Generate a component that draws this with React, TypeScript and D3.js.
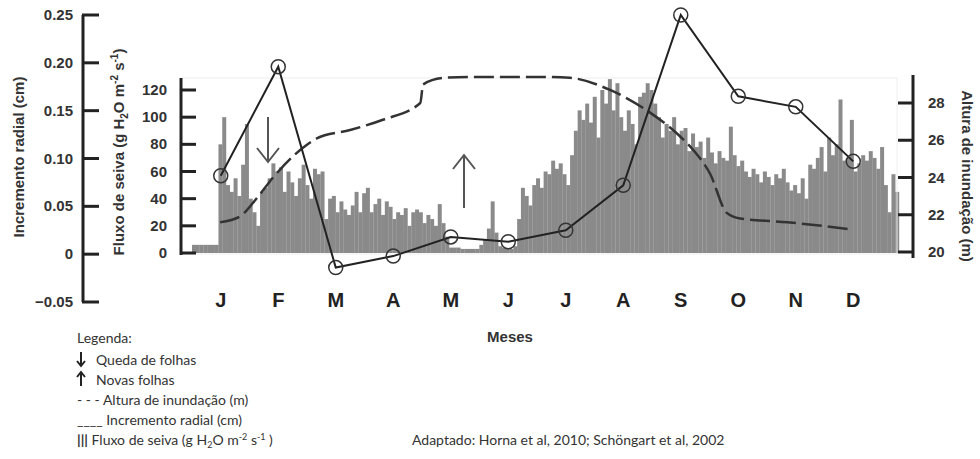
import React from "react";
import * as d3 from "d3";

const width = 980,
  height = 459;

// meses (rótulos do eixo x)
const months = ["J", "F", "M", "A", "M", "J", "J", "A", "S", "O", "N", "D"];

// incremento radial (cm), um valor por mês
const increment = [0.082, 0.196, -0.014, -0.002, 0.018, 0.013, 0.025, 0.072, 0.25, 0.165, 0.154, 0.097];

// altura de inundação (m): posição em meses e valor
const floodMonth = [0.49, 0.83, 1.13, 1.41, 1.93, 2.17, 2.75, 3.32, 3.97, 4.02, 4.37, 4.89, 6.05, 6.57, 7.27, 7.91, 8.49, 8.71, 9.01, 9.3, 9.53, 10.35, 11.5];
const floodHeight = [21.6, 21.9, 22.9, 24.0, 25.6, 26.1, 26.55, 27.1, 28.0, 29.0, 29.35, 29.4, 29.4, 29.35, 28.7, 27.6, 26.2, 25.5, 24.2, 22.1, 21.8, 21.6, 21.2];

// fluxo de seiva (g H2O m-2 s-1), um valor a cada 2 dias
const sapFlow = [
  6, 6, 6, 6, 6, 6, 6, 80, 100, 50, 45, 55, 42, 65, 95, 40, 30, 20, 45, 48,
  55, 66, 60, 63, 45, 60, 52, 42, 55, 65, 50, 40, 62, 58, 60, 25, 40, 42, 30, 38,
  32, 28, 35, 45, 30, 44, 48, 30, 36, 40, 28, 38, 34, 25, 30, 28, 33, 20, 30, 32,
  30, 22, 28, 25, 20, 36, 22, 12, 4, 4, 4, 3, 3, 3, 3, 3, 6, 10, 18, 38,
  15, 5, 4, 3, 3, 5, 25, 48, 42, 35, 50, 55, 48, 60, 58, 68, 62, 66, 58, 50,
  72, 90, 105, 98, 110, 96, 115, 85, 120, 110, 128, 105, 125, 100, 90, 105, 95, 80, 115, 118,
  125, 120, 110, 100, 85, 95, 90, 100, 80, 90, 92, 75, 88, 78, 82, 70, 85, 74, 66, 75,
  70, 68, 93, 72, 64, 68, 60, 56, 62, 58, 52, 60, 56, 50, 58, 55, 62, 52, 46, 50,
  44, 55, 40, 65, 62, 70, 78, 60, 85, 72, 80, 113, 68, 70, 98, 60, 66, 72, 68, 75,
  70, 62, 78, 50, 30, 58, 45,
];

const incTicks = [-0.05, 0, 0.05, 0.1, 0.15, 0.2, 0.25];
const sapTicks = [0, 20, 40, 60, 80, 100, 120];
const floodTicks = [20, 22, 24, 26, 28];

const legendItems = [
  "Queda de folhas",
  "Novas folhas",
  "Altura de inundação (m)",
  "Incremento radial (cm)",
];

export default function App() {
  const xMonth = d3.scaleLinear().domain([0, 12]).range([192, 882]);
  const xDay = d3.scaleLinear().domain([0, 365]).range([192, 882]);
  const yInc = d3.scaleLinear().domain([-0.05, 0.25]).range([302, 15]);
  const ySap = d3.scaleLinear().domain([0, 120]).range([253, 90]);
  const yFlood = d3.scaleLinear().domain([20, 28]).range([252, 103]);

  const incLine = d3
    .line<number>()
    .x((_, i) => xMonth(i + 0.5))
    .y(d => yInc(d));

  const floodLine = d3
    .line<number>()
    .x((_, i) => xMonth(floodMonth[i]))
    .y(d => yFlood(d))
    .curve(d3.curveMonotoneX);

  const axisFont = "'Liberation Sans', Arial, sans-serif";
  const legendFont = "Lato, 'Open Sans', sans-serif";
  const ink = "#222";

  return (
    <svg
      width={width}
      height={height}
      style={{ position: "absolute", left: 0, top: 0, background: "#fff" }}
    >
      {/* barras de fluxo de seiva */}
      <g fill="#8a8a8a">
        {sapFlow.map((v, i) => (
          <rect
            key={i}
            x={xDay(i * 2)}
            width={xDay(i * 2 + 2) - xDay(i * 2) + 0.2}
            y={ySap(v)}
            height={ySap(0) - ySap(v)}
          />
        ))}
      </g>
      <rect x={181} y={78} width={716} height={176} fill="none" stroke="#eee" strokeWidth={1} />

      {/* altura de inundação */}
      <path
        d={floodLine(floodHeight) || ""}
        fill="none"
        stroke="#333"
        strokeWidth={2.5}
        strokeDasharray="20 6"
      />

      {/* incremento radial */}
      <path d={incLine(increment) || ""} fill="none" stroke={ink} strokeWidth={2} />
      {increment.map((d, i) => (
        <circle key={i} cx={xMonth(i + 0.5)} cy={yInc(d)} r={7} fill="none" stroke="#333" strokeWidth={1.5} />
      ))}

      {/* setas */}
      <g stroke="#555" strokeWidth={2} fill="none">
        <path d="M268,117 V162 M257,148 L268,162 L279,148" />
        <path d="M464,208 V155 M453,169 L464,155 L475,169" />
      </g>

      {/* eixo incremento radial */}
      <g stroke={ink} strokeWidth={3}>
        <line x1={83} x2={83} y1={yInc(0.25)} y2={yInc(-0.05)} />
        {incTicks.map(t => (
          <line key={t} x1={82} x2={99} y1={yInc(t)} y2={yInc(t)} />
        ))}
      </g>
      <g fontFamily={axisFont} fontWeight="bold" fontSize={15} fill="#333" textAnchor="end">
        {incTicks.map(t => (
          <text key={t} x={73} y={yInc(t) + 5}>
            {t === 0 ? "0" : d3.format(".2f")(t)}
          </text>
        ))}
      </g>

      {/* eixo fluxo de seiva */}
      <g stroke={ink} strokeWidth={3}>
        <line x1={181} x2={181} y1={78} y2={255} />
        {sapTicks.map(t => (
          <line key={t} x1={180} x2={196} y1={ySap(t)} y2={ySap(t)} />
        ))}
      </g>
      <g fontFamily={axisFont} fontWeight="bold" fontSize={15} fill="#333" textAnchor="end">
        {sapTicks.map(t => (
          <text key={t} x={167} y={ySap(t) + 5}>
            {t}
          </text>
        ))}
      </g>

      {/* eixo altura de inundação */}
      <g stroke={ink} strokeWidth={3}>
        <line x1={913} x2={913} y1={75} y2={258} />
        {floodTicks.map(t => (
          <line key={t} x1={898} x2={914} y1={yFlood(t)} y2={yFlood(t)} />
        ))}
      </g>
      <g fontFamily={axisFont} fontWeight="bold" fontSize={15} fill="#333">
        {floodTicks.map(t => (
          <text key={t} x={928} y={yFlood(t) + 5}>
            {t}
          </text>
        ))}
      </g>

      {/* títulos dos eixos */}
      <text
        transform="translate(24,157) rotate(-90)"
        textAnchor="middle"
        fontFamily={axisFont}
        fontWeight="bold"
        fontSize={15}
        fill="#333"
      >
        Incremento radial (cm)
      </text>
      <text
        transform="translate(124,152) rotate(-90)"
        textAnchor="middle"
        fontFamily={axisFont}
        fontWeight="bold"
        fontSize={15}
        fill="#333"
      >
        Fluxo de seiva (g H<tspan fontSize={10} dy={4}>2</tspan>
        <tspan dy={-4}>O m</tspan>
        <tspan fontSize={10} dy={-6}>-2</tspan>
        <tspan dy={6}> s</tspan>
        <tspan fontSize={10} dy={-6}>-1</tspan>
        <tspan dy={6}>)</tspan>
      </text>
      <text
        transform="translate(962,176) rotate(90)"
        textAnchor="middle"
        fontFamily={axisFont}
        fontWeight="bold"
        fontSize={15}
        fill="#333"
      >
        Altura de inundação (m)
      </text>

      {/* meses */}
      <g fontFamily={axisFont} fontWeight="bold" fontSize={20} fill={ink} textAnchor="middle">
        {months.map((m, i) => (
          <text key={i} x={xMonth(i + 0.5)} y={307}>
            {m}
          </text>
        ))}
      </g>
      <text x={510} y={342} textAnchor="middle" fontFamily={axisFont} fontWeight="bold" fontSize={15} fill="#333">
        Meses
      </text>

      {/* legenda */}
      <g fontFamily={legendFont} fontSize={14} fill="#333">
        <text x={77} y={343}>Legenda:</text>
        <path d="M81,352 V366 M77,361 L81,366 L85,361" stroke="#222" strokeWidth={2} fill="none" />
        <text x={96} y={365}>{legendItems[0]}</text>
        <path d="M81,386 V372 M77,377 L81,372 L85,377" stroke="#222" strokeWidth={2} fill="none" />
        <text x={96} y={385}>{legendItems[1]}</text>
        <text x={77} y={405}>- - - {legendItems[2]}</text>
        <text x={77} y={425}>____ {legendItems[3]}</text>
        <text x={77} y={445}>
          <tspan fontWeight="bold">|||</tspan> Fluxo de seiva (g H<tspan fontSize={9} dy={3}>2</tspan>
          <tspan dy={-3}>O m</tspan>
          <tspan fontSize={9} dy={-5}>-2</tspan>
          <tspan dy={5}> s</tspan>
          <tspan fontSize={9} dy={-5}>-1</tspan>
          <tspan dy={5}> )</tspan>
        </text>
        <text x={412} y={445}>Adaptado: Horna et al, 2010; Schöngart et al, 2002</text>
      </g>
    </svg>
  );
}
